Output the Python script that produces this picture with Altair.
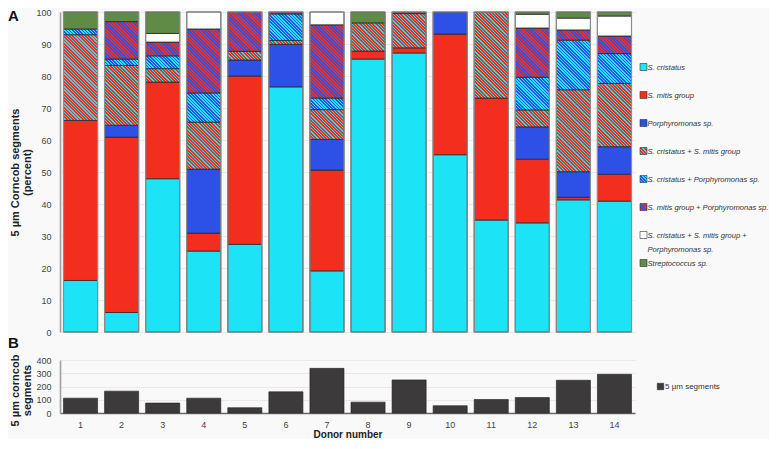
import altair as alt

# ---------------- data ----------------
donors = list(range(1, 15))
categories = [
    "S. cristatus",
    "S. mitis group",
    "Porphyromonas sp.",
    "S. cristatus + S. mitis group",
    "S. cristatus + Porphyromonas sp.",
    "S. mitis group + Porphyromonas sp.",
    "S. cristatus + S. mitis group +\nPorphyromonas sp.",
    "Streptococcus sp.",
]
s_cristatus   = [16.1, 6.1, 47.9, 25.3, 27.4, 76.6, 19.1, 85.3, 87.2, 55.4, 35.0, 34.1, 41.3, 40.9]
s_mitis       = [50.0, 54.8, 30.2, 5.6, 52.6, 0.0, 31.5, 2.5, 1.6, 37.7, 38.1, 19.9, 0.8, 8.4]
porphyromonas = [0.0, 3.7, 0.0, 20.0, 5.0, 13.3, 9.6, 0.0, 0.0, 6.9, 0.0, 10.1, 8.0, 8.6]
cris_mitis    = [26.8, 18.7, 4.2, 14.7, 2.7, 1.2, 9.3, 8.8, 10.7, 0.0, 26.9, 5.3, 25.6, 19.8]
cris_porph    = [1.8, 2.0, 4.0, 9.1, 0.0, 8.3, 3.6, 0.0, 0.0, 0.0, 0.0, 10.2, 15.5, 9.3]
mitis_porph   = [0.0, 11.7, 4.3, 20.0, 12.3, 0.6, 22.9, 0.0, 0.5, 0.0, 0.0, 15.4, 3.2, 5.5]
triple        = [0.0, 0.0, 2.7, 5.3, 0.0, 0.0, 4.0, 0.0, 0.0, 0.0, 0.0, 4.3, 3.7, 6.25]
streptococcus = [5.3, 3.0, 6.7, 0.0, 0.0, 0.0, 0.0, 3.4, 0.0, 0.0, 0.0, 0.7, 1.9, 1.25]
series = [s_cristatus, s_mitis, porphyromonas, cris_mitis, cris_porph, mitis_porph, triple, streptococcus]

segments_total = [112, 165, 75, 112, 40, 160, 337, 82, 250, 55, 102, 117, 247, 292]
series_name = ["5 µm segments"]

# ---------------- style ----------------
CYAN, RED, BLUE, GREEN, WHITE = "#1de3f6", "#f42e1f", "#2d50e6", "#5f8b47", "#ffffff"
DARK = "#3c3a3b"
paints = [CYAN, RED, BLUE, (RED, CYAN, 0.62), (BLUE, CYAN, 0.5), (BLUE, RED, 0.5), WHITE, GREEN]

PLOT_W, A_H, B_H = 575, 320, 53
PAD_IN, PAD_OUT = 0.17, 0.085
step = PLOT_W / (len(donors) - PAD_IN + 2 * PAD_OUT)
BAR_W = step * (1 - PAD_IN)
PERIOD = 3.2
FONT = "Liberation Sans"


def stripe_fill(spec, w, h):
    base, line, frac = spec
    k = (w + h) / (w * w + h * h)
    n = (w + h) / PERIOD
    stops = []
    i = 0
    while i < n:
        a, m, b = i / n, (i + frac) / n, (i + 1) / n
        for off, col in ((a, base), (m, base), (m, line), (b, line)):
            stops.append({"offset": round(min(off, 1.0), 5), "color": col})
        i += 1
    return {"gradient": "linear", "x1": 0, "y1": 1,
            "x2": round(w * k, 5), "y2": round(1 - h * k, 5), "stops": stops}


def paint_for(ci, w, h):
    p = paints[ci]
    return p if isinstance(p, str) else stripe_fill(p, w, h)


rows = []
for di, d in enumerate(donors):
    for ci, cat in enumerate(categories):
        v = series[ci][di]
        if v > 0:
            rows.append({"donor": d, "category": cat, "order": ci, "pct": v,
                         "paint": paint_for(ci, BAR_W, v * A_H / 100.0)})

legend_rows = [{"idx": ci, "label": cat, "paint": paint_for(ci, 7, 7)}
               for ci, cat in enumerate(categories)]

b_rows = [{"donor": d, "count": c, "series": series_name[0]}
          for d, c in zip(donors, segments_total)]

xscale = alt.Scale(domain=donors, paddingInner=PAD_IN, paddingOuter=PAD_OUT)

# ---------------- panel A ----------------
dataA = alt.Data(values=rows)


def yaxisA():
    return alt.Axis(values=list(range(0, 101, 10)), title=["5 µm Corncob segments", "(percent)"],
                    grid=True, gridColor="#e9e9e9", gridWidth=1,
                    domainColor="#a0a0a0", domainWidth=1.6, ticks=False, tickSize=0,
                    labelPadding=9, labelFontSize=9, labelColor="#444",
                    titleFontSize=11, titleFontWeight="bold", titleColor="#222",
                    titleX=-42, titleY=A_H / 2, titleAlign="center", titleBaseline="alphabetic",
                    titleLineHeight=12)


bars = alt.Chart(dataA).transform_stack(
    stack="pct", groupby=["donor"], sort=[alt.SortField("order", order="ascending")], as_=["y0", "y1"]
).mark_bar(stroke="#2a2a2a", strokeWidth=0.8).encode(
    x=alt.X("donor:O", scale=xscale, axis=None),
    y=alt.Y("y0:Q", scale=alt.Scale(domain=[0, 100]), axis=yaxisA()),
    y2="y1:Q",
    fill=alt.Fill("paint:N", scale=None),
)
outline = alt.Chart(dataA).mark_bar(fillOpacity=0, stroke="#8c8c8c", strokeWidth=1.2).encode(
    x=alt.X("donor:O", scale=xscale, axis=None),
    y=alt.Y("sum(pct):Q", axis=yaxisA()),
)
chartA = alt.layer(bars, outline).properties(
    width=PLOT_W, height=A_H,
    title=alt.TitleParams("A", anchor="start", frame="group", fontSize=15, fontWeight="bold",
                          color="#111", dx=-52, dy=16, offset=0, baseline="top"),
)

# ---------------- legend for A ----------------
legData = alt.Data(values=legend_rows)
leg_y = alt.Y("idx:Q", scale=alt.Scale(domain=[-55 / 28, 265 / 28], reverse=True, nice=False, zero=False),
              axis=None)
leg_sq = alt.Chart(legData).mark_square(size=49, stroke="#333", strokeWidth=0.6, opacity=1).encode(
    y=leg_y, fill=alt.Fill("paint:N", scale=None))
leg_tx = alt.Chart(legData).mark_text(align="left", baseline="alphabetic", dx=4, dy=3, fontSize=7.6,
                                      fontStyle="italic", lineBreak="\n", lineHeight=14,
                                      color="#333").encode(y=leg_y, text="label:N")
legendA = alt.layer(leg_sq, leg_tx).properties(width=7, height=A_H)

# ---------------- panel B ----------------
xaxisB = alt.Axis(title="Donor number", titleFontSize=10, titleFontWeight="bold", titleColor="#222",
                  titleY=24, titleBaseline="alphabetic",
                  labelAngle=0, labelFontSize=9, labelColor="#444", labelPadding=7,
                  ticks=False, tickSize=0, domainColor="#6a6a6a", domainWidth=1.5, grid=False)
yaxisB = alt.Axis(values=[0, 100, 200, 300, 400], title=["5 µm corncob", "segments"],
                  grid=True, gridColor="#e9e9e9", domainColor="#a0a0a0", domainWidth=1.6,
                  ticks=False, tickSize=0, labelPadding=9, labelFontSize=9, labelColor="#444",
                  titleFontSize=11, titleFontWeight="bold", titleColor="#222",
                  titleX=-42, titleY=30, titleAlign="center", titleBaseline="alphabetic",
                  titleLineHeight=12)
chartB = alt.Chart(alt.Data(values=b_rows)).mark_bar(stroke="#222", strokeWidth=0.6, color=DARK).encode(
    x=alt.X("donor:O", scale=xscale, axis=xaxisB),
    y=alt.Y("count:Q", scale=alt.Scale(domain=[0, 400]), axis=yaxisB),
).properties(
    width=PLOT_W, height=B_H,
    title=alt.TitleParams("B", anchor="start", frame="group", fontSize=15, fontWeight="bold",
                          color="#111", dx=-52, dy=22, offset=13, baseline="alphabetic"),
)

# ---------------- legend for B ----------------
legBData = alt.Data(values=[{"s": s, "k": 0} for s in series_name])
legB_y = alt.Y("k:Q", scale=alt.Scale(domain=[-1, 1], nice=False, zero=False), axis=None)
legB_sq = alt.Chart(legBData).mark_square(size=42, color=DARK, stroke="#222", strokeWidth=0.5,
                                          opacity=1, xOffset=17).encode(y=legB_y)
legB_tx = alt.Chart(legBData).mark_text(align="left", baseline="middle", dx=21.5, fontSize=8,
                                        color="#333").encode(y=legB_y, text="s:N")
legendB = alt.layer(legB_sq, legB_tx).properties(width=7, height=B_H)

chart = alt.concat(chartA, legendA, chartB, legendB, columns=2,
                   spacing={"row": 28, "column": 5}, bounds="flush").properties(
    padding=0, background="#f9f9f9"
).configure(font=FONT, view=alt.ViewConfig(stroke=None))

chart.save("out.html", embed_options={"renderer": "svg", "actions": False})
